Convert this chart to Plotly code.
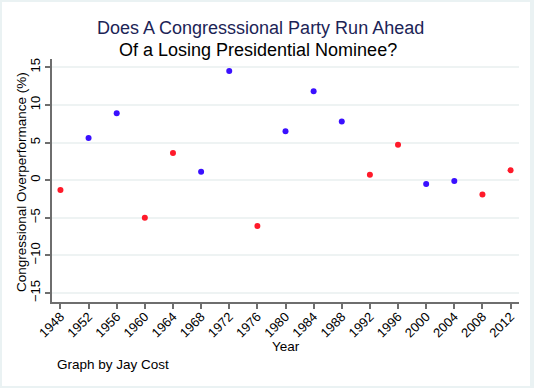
import plotly.graph_objects as go

years = [1948, 1952, 1956, 1960, 1964, 1968, 1972, 1976, 1980,
         1984, 1988, 1992, 1996, 2000, 2004, 2008, 2012]
overperf = [-1.3, 5.6, 8.9, -5.0, 3.6, 1.1, 14.5, -6.1, 6.5,
            11.8, 7.8, 0.7, 4.7, -0.5, -0.1, -1.9, 1.3]
party = ["R", "D", "D", "R", "R", "D", "D", "R", "D",
         "D", "D", "R", "R", "D", "D", "R", "R"]
y_ticks = [-15, -10, -5, 0, 5, 10, 15]

colors = {"D": "#3a10ff", "R": "#ff1a2a"}
FONT = "Liberation Sans"

W, H = 534, 388
ML, MR, MT, MB = 52, 15, 59, 86
PW, PH = W - ML - MR, H - MT - MB


def px_x(px):
    return (px - ML) / PW


def px_y(py):
    return (H - py - MB) / PH


fig = go.Figure()
fig.add_trace(go.Scatter(
    x=years, y=overperf, mode="markers",
    marker=dict(size=6, color=[colors[p] for p in party], line=dict(width=0)),
    showlegend=False, hoverinfo="x+y",
))

fig.update_layout(
    width=W, height=H,
    margin=dict(l=ML, r=MR, t=MT, b=MB, autoexpand=False),
    paper_bgcolor="#eaf2f3",
    plot_bgcolor="white",
    font=dict(family=FONT, color="black"),
    shapes=[dict(type="rect", xref="paper", yref="paper", layer="below",
                 x0=px_x(2), x1=px_x(530), y0=px_y(386), y1=px_y(2),
                 fillcolor="white", line=dict(width=0))],
)

fig.update_xaxes(
    range=[1946.8, 2013.2], tickvals=years, ticktext=[str(y) for y in years],
    tickangle=-45, tickfont=dict(size=13, family=FONT, color="black"),
    ticklabelstandoff=-5,
    showgrid=False, zeroline=False, automargin=False,
    showline=True, linecolor="#6e6e6e", linewidth=2,
    ticks="outside", ticklen=5, tickwidth=2, tickcolor="#6e6e6e",
)
fig.update_yaxes(
    range=[-16.2, 16.1], tickvals=y_ticks, automargin=False,
    tickangle=-90, tickfont=dict(size=13, family=FONT, color="black"),
    showgrid=True, gridcolor="#eef3f3", gridwidth=1.5, zeroline=False,
    showline=True, linecolor="#6e6e6e", linewidth=2,
    ticks="outside", ticklen=5, tickwidth=2, tickcolor="#6e6e6e",
)

anns = [
    dict(text="Does A Congresssional Party Run Ahead", x=px_x(260), y=px_y(28.5),
         font=dict(size=18, color="#1c2456", family=FONT)),
    dict(text="Of a Losing Presidential Nominee?", x=px_x(258), y=px_y(50),
         font=dict(size=18, color="black", family=FONT)),
    dict(text="Congressional Overperformance (%)", x=px_x(21), y=px_y(182),
         textangle=-90, font=dict(size=13.5, color="black", family=FONT)),
    dict(text="Year", x=px_x(286), y=px_y(346),
         font=dict(size=13.5, color="black", family=FONT)),
    dict(text="Graph by Jay Cost", x=px_x(55), y=px_y(364), xanchor="left",
         font=dict(size=13.5, color="black", family=FONT)),
]
for a in anns:
    a.setdefault("xanchor", "center")
    fig.add_annotation(xref="paper", yref="paper", showarrow=False,
                       yanchor="middle", **a)

fig.write_html("out.html",
               config={"displayModeBar": False},
               post_script="document.body.style.margin='0';")
